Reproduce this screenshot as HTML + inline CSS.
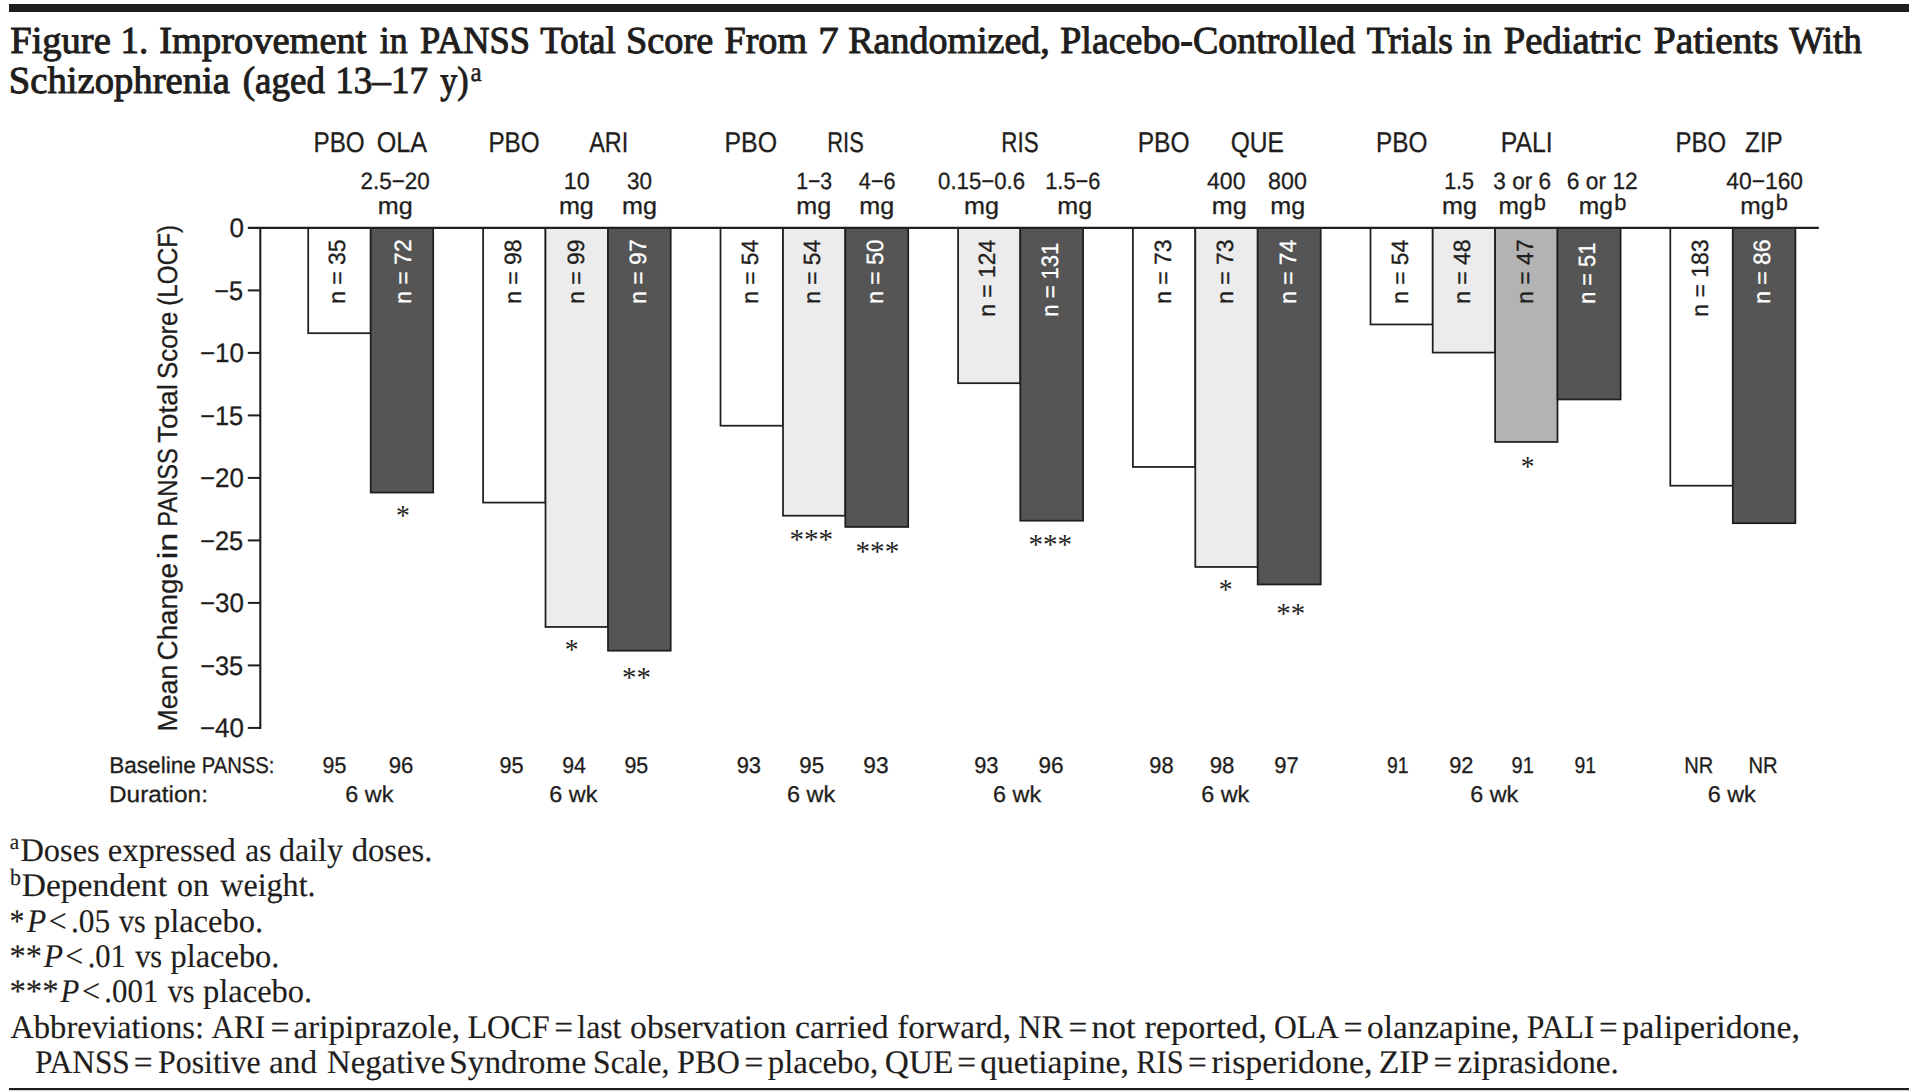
<!DOCTYPE html>
<html lang="en"><head><meta charset="utf-8"><title>Figure 1. Improvement in PANSS Total Score</title>
<style>
html,body{margin:0;padding:0;background:#fff;}
body{width:1919px;height:1092px;overflow:hidden;font-family:"Liberation Serif",serif;}
svg{display:block}
.sans{font-family:"Liberation Sans",sans-serif}
.serif,.serifi{font-family:"Liberation Serif",serif}
text{white-space:pre}
</style></head><body>
<svg width="1919" height="1092" viewBox="0 0 1919 1092" shape-rendering="auto" text-rendering="geometricPrecision">
<rect width="1919" height="1092" fill="#fff"/>
<rect x="9" y="4" width="1900" height="8" fill="#1f1e1c"/>
<rect x="9" y="1088" width="1900" height="2.2" fill="#1f1e1c"/>
<g id="title">
<text x="10.24" y="53.45" font-size="38.2" class="serif"  fill="#1f1e1c" stroke="#1f1e1c" stroke-width="1.0" textLength="100.55" lengthAdjust="spacingAndGlyphs">Figure</text>
<text x="120.46" y="53.45" font-size="38.2" class="serif"  fill="#1f1e1c" stroke="#1f1e1c" stroke-width="1.0" textLength="27.74" lengthAdjust="spacingAndGlyphs">1.</text>
<text x="159.15" y="53.45" font-size="38.2" class="serif"  fill="#1f1e1c" stroke="#1f1e1c" stroke-width="1.0" textLength="207.33" lengthAdjust="spacingAndGlyphs">Improvement</text>
<text x="379.79" y="53.45" font-size="38.2" class="serif"  fill="#1f1e1c" stroke="#1f1e1c" stroke-width="1.0" textLength="27.76" lengthAdjust="spacingAndGlyphs">in</text>
<text x="420.00" y="53.45" font-size="38.2" class="serif"  fill="#1f1e1c" stroke="#1f1e1c" stroke-width="1.0" textLength="110.03" lengthAdjust="spacingAndGlyphs">PANSS</text>
<text x="540.15" y="53.45" font-size="38.2" class="serif"  fill="#1f1e1c" stroke="#1f1e1c" stroke-width="1.0" textLength="75.52" lengthAdjust="spacingAndGlyphs">Total</text>
<text x="626.01" y="53.45" font-size="38.2" class="serif"  fill="#1f1e1c" stroke="#1f1e1c" stroke-width="1.0" textLength="87.31" lengthAdjust="spacingAndGlyphs">Score</text>
<text x="724.45" y="53.45" font-size="38.2" class="serif"  fill="#1f1e1c" stroke="#1f1e1c" stroke-width="1.0" textLength="82.60" lengthAdjust="spacingAndGlyphs">From</text>
<text x="818.25" y="53.45" font-size="38.2" class="serif"  fill="#1f1e1c" stroke="#1f1e1c" stroke-width="1.0" textLength="20.37" lengthAdjust="spacingAndGlyphs">7</text>
<text x="848.20" y="53.45" font-size="38.2" class="serif"  fill="#1f1e1c" stroke="#1f1e1c" stroke-width="1.0" textLength="201.64" lengthAdjust="spacingAndGlyphs">Randomized,</text>
<text x="1060.26" y="53.45" font-size="38.2" class="serif"  fill="#1f1e1c" stroke="#1f1e1c" stroke-width="1.0" textLength="294.96" lengthAdjust="spacingAndGlyphs">Placebo-Controlled</text>
<text x="1366.74" y="53.45" font-size="38.2" class="serif"  fill="#1f1e1c" stroke="#1f1e1c" stroke-width="1.0" textLength="86.07" lengthAdjust="spacingAndGlyphs">Trials</text>
<text x="1463.07" y="53.45" font-size="38.2" class="serif"  fill="#1f1e1c" stroke="#1f1e1c" stroke-width="1.0" textLength="28.39" lengthAdjust="spacingAndGlyphs">in</text>
<text x="1503.74" y="53.45" font-size="38.2" class="serif"  fill="#1f1e1c" stroke="#1f1e1c" stroke-width="1.0" textLength="137.40" lengthAdjust="spacingAndGlyphs">Pediatric</text>
<text x="1653.71" y="53.45" font-size="38.2" class="serif"  fill="#1f1e1c" stroke="#1f1e1c" stroke-width="1.0" textLength="125.03" lengthAdjust="spacingAndGlyphs">Patients</text>
<text x="1789.20" y="53.45" font-size="38.2" class="serif"  fill="#1f1e1c" stroke="#1f1e1c" stroke-width="1.0" textLength="72.65" lengthAdjust="spacingAndGlyphs">With</text>
<text x="8.79" y="93.00" font-size="38.2" class="serif"  fill="#1f1e1c" stroke="#1f1e1c" stroke-width="1.0" textLength="221.11" lengthAdjust="spacingAndGlyphs">Schizophrenia</text>
<text x="242.73" y="93.00" font-size="38.2" class="serif"  fill="#1f1e1c" stroke="#1f1e1c" stroke-width="1.0" textLength="82.17" lengthAdjust="spacingAndGlyphs">(aged</text>
<text x="335.25" y="93.00" font-size="38.2" class="serif"  fill="#1f1e1c" stroke="#1f1e1c" stroke-width="1.0" textLength="92.77" lengthAdjust="spacingAndGlyphs">13–17</text>
<text x="440.16" y="93.00" font-size="38.2" class="serif"  fill="#1f1e1c" stroke="#1f1e1c" stroke-width="1.0" textLength="28.30" lengthAdjust="spacingAndGlyphs">y)</text>
<text x="470.57" y="80.80" font-size="27" class="serif"  fill="#1f1e1c" stroke="#1f1e1c" stroke-width="0.5" textLength="11.17" lengthAdjust="spacingAndGlyphs">a</text>
</g>
<g id="bars">
<rect x="308.20" y="227.90" width="62.50" height="105.30" fill="#ffffff" stroke="#1f1e1c" stroke-width="1.75"/>
<rect x="370.70" y="227.90" width="62.50" height="264.67" fill="#555555" stroke="#1f1e1c" stroke-width="1.75"/>
<rect x="483.10" y="227.90" width="62.40" height="274.67" fill="#ffffff" stroke="#1f1e1c" stroke-width="1.75"/>
<rect x="545.50" y="227.90" width="62.50" height="399.05" fill="#ececec" stroke="#1f1e1c" stroke-width="1.75"/>
<rect x="608.00" y="227.90" width="62.70" height="422.80" fill="#555555" stroke="#1f1e1c" stroke-width="1.75"/>
<rect x="720.50" y="227.90" width="62.50" height="197.80" fill="#ffffff" stroke="#1f1e1c" stroke-width="1.75"/>
<rect x="783.00" y="227.90" width="62.30" height="287.80" fill="#ececec" stroke="#1f1e1c" stroke-width="1.75"/>
<rect x="845.30" y="227.90" width="62.90" height="299.05" fill="#555555" stroke="#1f1e1c" stroke-width="1.75"/>
<rect x="958.10" y="227.90" width="62.20" height="155.30" fill="#ececec" stroke="#1f1e1c" stroke-width="1.75"/>
<rect x="1020.30" y="227.90" width="62.80" height="292.80" fill="#555555" stroke="#1f1e1c" stroke-width="1.75"/>
<rect x="1132.90" y="227.90" width="62.40" height="239.05" fill="#ffffff" stroke="#1f1e1c" stroke-width="1.75"/>
<rect x="1195.30" y="227.90" width="62.40" height="339.05" fill="#ececec" stroke="#1f1e1c" stroke-width="1.75"/>
<rect x="1257.70" y="227.90" width="63.00" height="356.55" fill="#555555" stroke="#1f1e1c" stroke-width="1.75"/>
<rect x="1370.50" y="227.90" width="62.20" height="96.55" fill="#ffffff" stroke="#1f1e1c" stroke-width="1.75"/>
<rect x="1432.70" y="227.90" width="62.40" height="124.67" fill="#ececec" stroke="#1f1e1c" stroke-width="1.75"/>
<rect x="1495.10" y="227.90" width="62.40" height="214.05" fill="#b3b3b3" stroke="#1f1e1c" stroke-width="1.75"/>
<rect x="1557.50" y="227.90" width="63.10" height="171.55" fill="#555555" stroke="#1f1e1c" stroke-width="1.75"/>
<rect x="1670.30" y="227.90" width="62.50" height="257.80" fill="#ffffff" stroke="#1f1e1c" stroke-width="1.75"/>
<rect x="1732.80" y="227.90" width="62.60" height="295.30" fill="#555555" stroke="#1f1e1c" stroke-width="1.75"/>
</g>
<g id="axes">
<line x1="247.80" y1="227.90" x2="1818.80" y2="227.90" stroke="#1f1e1c" stroke-width="2.1"/>
<line x1="260.30" y1="226.90" x2="260.30" y2="728.90" stroke="#1f1e1c" stroke-width="2.1"/>
<line x1="247.80" y1="290.40" x2="260.30" y2="290.40" stroke="#1f1e1c" stroke-width="2"/>
<line x1="247.80" y1="352.90" x2="260.30" y2="352.90" stroke="#1f1e1c" stroke-width="2"/>
<line x1="247.80" y1="415.40" x2="260.30" y2="415.40" stroke="#1f1e1c" stroke-width="2"/>
<line x1="247.80" y1="477.90" x2="260.30" y2="477.90" stroke="#1f1e1c" stroke-width="2"/>
<line x1="247.80" y1="540.40" x2="260.30" y2="540.40" stroke="#1f1e1c" stroke-width="2"/>
<line x1="247.80" y1="602.90" x2="260.30" y2="602.90" stroke="#1f1e1c" stroke-width="2"/>
<line x1="247.80" y1="665.40" x2="260.30" y2="665.40" stroke="#1f1e1c" stroke-width="2"/>
<line x1="247.80" y1="727.90" x2="260.30" y2="727.90" stroke="#1f1e1c" stroke-width="2"/>
<text x="229.47" y="237.30" font-size="26.8" class="sans"  fill="#1f1e1c" stroke="#1f1e1c" stroke-width="0.3" textLength="14.49" lengthAdjust="spacingAndGlyphs">0</text>
<text x="214.33" y="299.80" font-size="26.8" class="sans"  fill="#1f1e1c" stroke="#1f1e1c" stroke-width="0.3" textLength="28.83" lengthAdjust="spacingAndGlyphs">−5</text>
<text x="199.96" y="362.30" font-size="26.8" class="sans"  fill="#1f1e1c" stroke="#1f1e1c" stroke-width="0.3" textLength="44.00" lengthAdjust="spacingAndGlyphs">−10</text>
<text x="200.13" y="424.80" font-size="26.8" class="sans"  fill="#1f1e1c" stroke="#1f1e1c" stroke-width="0.3" textLength="43.07" lengthAdjust="spacingAndGlyphs">−15</text>
<text x="199.96" y="487.30" font-size="26.8" class="sans"  fill="#1f1e1c" stroke="#1f1e1c" stroke-width="0.3" textLength="44.00" lengthAdjust="spacingAndGlyphs">−20</text>
<text x="200.13" y="549.80" font-size="26.8" class="sans"  fill="#1f1e1c" stroke="#1f1e1c" stroke-width="0.3" textLength="43.07" lengthAdjust="spacingAndGlyphs">−25</text>
<text x="199.96" y="612.30" font-size="26.8" class="sans"  fill="#1f1e1c" stroke="#1f1e1c" stroke-width="0.3" textLength="44.00" lengthAdjust="spacingAndGlyphs">−30</text>
<text x="200.13" y="674.80" font-size="26.8" class="sans"  fill="#1f1e1c" stroke="#1f1e1c" stroke-width="0.3" textLength="43.07" lengthAdjust="spacingAndGlyphs">−35</text>
<text x="199.96" y="737.30" font-size="26.8" class="sans"  fill="#1f1e1c" stroke="#1f1e1c" stroke-width="0.3" textLength="44.00" lengthAdjust="spacingAndGlyphs">−40</text>
</g>
<g id="ytitle">
<text transform="translate(176.50 731.48) rotate(-90)" font-size="27.5" class="sans"  fill="#1f1e1c" stroke="#1f1e1c" stroke-width="0.3" textLength="66.74" lengthAdjust="spacingAndGlyphs">Mean</text>
<text transform="translate(176.50 660.44) rotate(-90)" font-size="27.5" class="sans"  fill="#1f1e1c" stroke="#1f1e1c" stroke-width="0.3" textLength="97.39" lengthAdjust="spacingAndGlyphs">Change</text>
<text transform="translate(176.50 559.37) rotate(-90)" font-size="27.5" class="sans"  fill="#1f1e1c" stroke="#1f1e1c" stroke-width="0.3" textLength="26.58" lengthAdjust="spacingAndGlyphs">in</text>
<text transform="translate(176.50 526.64) rotate(-90)" font-size="27.5" class="sans"  fill="#1f1e1c" stroke="#1f1e1c" stroke-width="0.3" textLength="78.42" lengthAdjust="spacingAndGlyphs">PANSS</text>
<text transform="translate(176.50 442.91) rotate(-90)" font-size="27.5" class="sans"  fill="#1f1e1c" stroke="#1f1e1c" stroke-width="0.3" textLength="58.87" lengthAdjust="spacingAndGlyphs">Total</text>
<text transform="translate(176.50 378.91) rotate(-90)" font-size="27.5" class="sans"  fill="#1f1e1c" stroke="#1f1e1c" stroke-width="0.3" textLength="67.32" lengthAdjust="spacingAndGlyphs">Score</text>
<text transform="translate(176.50 305.70) rotate(-90)" font-size="27.5" class="sans"  fill="#1f1e1c" stroke="#1f1e1c" stroke-width="0.3" textLength="80.72" lengthAdjust="spacingAndGlyphs">(LOCF)</text>
</g>
<g id="heads">
<text x="313.51" y="152.40" font-size="28.6" class="sans"  fill="#1f1e1c" stroke="#1f1e1c" stroke-width="0.3" textLength="51.17" lengthAdjust="spacingAndGlyphs">PBO</text>
<text x="376.72" y="152.40" font-size="28.6" class="sans"  fill="#1f1e1c" stroke="#1f1e1c" stroke-width="0.3" textLength="50.36" lengthAdjust="spacingAndGlyphs">OLA</text>
<text x="488.41" y="152.40" font-size="28.6" class="sans"  fill="#1f1e1c" stroke="#1f1e1c" stroke-width="0.3" textLength="51.28" lengthAdjust="spacingAndGlyphs">PBO</text>
<text x="589.15" y="152.40" font-size="28.6" class="sans"  fill="#1f1e1c" stroke="#1f1e1c" stroke-width="0.3" textLength="38.99" lengthAdjust="spacingAndGlyphs">ARI</text>
<text x="724.46" y="152.40" font-size="28.6" class="sans"  fill="#1f1e1c" stroke="#1f1e1c" stroke-width="0.3" textLength="52.56" lengthAdjust="spacingAndGlyphs">PBO</text>
<text x="827.30" y="152.40" font-size="28.6" class="sans"  fill="#1f1e1c" stroke="#1f1e1c" stroke-width="0.3" textLength="36.53" lengthAdjust="spacingAndGlyphs">RIS</text>
<text x="1001.36" y="152.40" font-size="28.6" class="sans"  fill="#1f1e1c" stroke="#1f1e1c" stroke-width="0.3" textLength="37.29" lengthAdjust="spacingAndGlyphs">RIS</text>
<text x="1137.68" y="152.40" font-size="28.6" class="sans"  fill="#1f1e1c" stroke="#1f1e1c" stroke-width="0.3" textLength="51.92" lengthAdjust="spacingAndGlyphs">PBO</text>
<text x="1230.74" y="152.40" font-size="28.6" class="sans"  fill="#1f1e1c" stroke="#1f1e1c" stroke-width="0.3" textLength="53.24" lengthAdjust="spacingAndGlyphs">QUE</text>
<text x="1375.90" y="152.40" font-size="28.6" class="sans"  fill="#1f1e1c" stroke="#1f1e1c" stroke-width="0.3" textLength="51.49" lengthAdjust="spacingAndGlyphs">PBO</text>
<text x="1500.87" y="152.40" font-size="28.6" class="sans"  fill="#1f1e1c" stroke="#1f1e1c" stroke-width="0.3" textLength="51.84" lengthAdjust="spacingAndGlyphs">PALI</text>
<text x="1675.53" y="152.40" font-size="28.6" class="sans"  fill="#1f1e1c" stroke="#1f1e1c" stroke-width="0.3" textLength="50.64" lengthAdjust="spacingAndGlyphs">PBO</text>
<text x="1745.12" y="152.40" font-size="28.6" class="sans"  fill="#1f1e1c" stroke="#1f1e1c" stroke-width="0.3" textLength="37.61" lengthAdjust="spacingAndGlyphs">ZIP</text>
</g>
<g id="doses">
<text x="360.53" y="188.80" font-size="23.5" class="sans"  fill="#1f1e1c" stroke="#1f1e1c" stroke-width="0.3" textLength="69.20" lengthAdjust="spacingAndGlyphs">2.5−20</text>
<text x="563.71" y="188.80" font-size="23.5" class="sans"  fill="#1f1e1c" stroke="#1f1e1c" stroke-width="0.3" textLength="25.87" lengthAdjust="spacingAndGlyphs">10</text>
<text x="627.01" y="188.80" font-size="23.5" class="sans"  fill="#1f1e1c" stroke="#1f1e1c" stroke-width="0.3" textLength="25.04" lengthAdjust="spacingAndGlyphs">30</text>
<text x="796.16" y="188.80" font-size="23.5" class="sans"  fill="#1f1e1c" stroke="#1f1e1c" stroke-width="0.3" textLength="36.02" lengthAdjust="spacingAndGlyphs">1−3</text>
<text x="858.86" y="188.80" font-size="23.5" class="sans"  fill="#1f1e1c" stroke="#1f1e1c" stroke-width="0.3" textLength="36.74" lengthAdjust="spacingAndGlyphs">4−6</text>
<text x="938.12" y="188.80" font-size="23.5" class="sans"  fill="#1f1e1c" stroke="#1f1e1c" stroke-width="0.3" textLength="86.89" lengthAdjust="spacingAndGlyphs">0.15−0.6</text>
<text x="1045.21" y="188.80" font-size="23.5" class="sans"  fill="#1f1e1c" stroke="#1f1e1c" stroke-width="0.3" textLength="55.27" lengthAdjust="spacingAndGlyphs">1.5−6</text>
<text x="1207.03" y="188.80" font-size="23.5" class="sans"  fill="#1f1e1c" stroke="#1f1e1c" stroke-width="0.3" textLength="38.51" lengthAdjust="spacingAndGlyphs">400</text>
<text x="1268.06" y="188.80" font-size="23.5" class="sans"  fill="#1f1e1c" stroke="#1f1e1c" stroke-width="0.3" textLength="38.78" lengthAdjust="spacingAndGlyphs">800</text>
<text x="1444.13" y="188.80" font-size="23.5" class="sans"  fill="#1f1e1c" stroke="#1f1e1c" stroke-width="0.3" textLength="29.98" lengthAdjust="spacingAndGlyphs">1.5</text>
<text x="1493.30" y="188.80" font-size="23.5" class="sans"  fill="#1f1e1c" stroke="#1f1e1c" stroke-width="0.3" textLength="57.86" lengthAdjust="spacingAndGlyphs">3 or 6</text>
<text x="1566.81" y="188.80" font-size="23.5" class="sans"  fill="#1f1e1c" stroke="#1f1e1c" stroke-width="0.3" textLength="70.94" lengthAdjust="spacingAndGlyphs">6 or 12</text>
<text x="1726.24" y="188.80" font-size="23.5" class="sans"  fill="#1f1e1c" stroke="#1f1e1c" stroke-width="0.3" textLength="76.82" lengthAdjust="spacingAndGlyphs">40−160</text>
<text x="377.71" y="214.20" font-size="24" class="sans"  fill="#1f1e1c" stroke="#1f1e1c" stroke-width="0.3" textLength="34.95" lengthAdjust="spacingAndGlyphs">mg</text>
<text x="558.91" y="214.20" font-size="24" class="sans"  fill="#1f1e1c" stroke="#1f1e1c" stroke-width="0.3" textLength="34.95" lengthAdjust="spacingAndGlyphs">mg</text>
<text x="622.01" y="214.20" font-size="24" class="sans"  fill="#1f1e1c" stroke="#1f1e1c" stroke-width="0.3" textLength="34.95" lengthAdjust="spacingAndGlyphs">mg</text>
<text x="796.31" y="214.20" font-size="24" class="sans"  fill="#1f1e1c" stroke="#1f1e1c" stroke-width="0.3" textLength="34.95" lengthAdjust="spacingAndGlyphs">mg</text>
<text x="859.31" y="214.20" font-size="24" class="sans"  fill="#1f1e1c" stroke="#1f1e1c" stroke-width="0.3" textLength="34.95" lengthAdjust="spacingAndGlyphs">mg</text>
<text x="964.01" y="214.20" font-size="24" class="sans"  fill="#1f1e1c" stroke="#1f1e1c" stroke-width="0.3" textLength="34.95" lengthAdjust="spacingAndGlyphs">mg</text>
<text x="1057.21" y="214.20" font-size="24" class="sans"  fill="#1f1e1c" stroke="#1f1e1c" stroke-width="0.3" textLength="34.95" lengthAdjust="spacingAndGlyphs">mg</text>
<text x="1211.71" y="214.20" font-size="24" class="sans"  fill="#1f1e1c" stroke="#1f1e1c" stroke-width="0.3" textLength="34.95" lengthAdjust="spacingAndGlyphs">mg</text>
<text x="1270.21" y="214.20" font-size="24" class="sans"  fill="#1f1e1c" stroke="#1f1e1c" stroke-width="0.3" textLength="34.95" lengthAdjust="spacingAndGlyphs">mg</text>
<text x="1442.01" y="214.20" font-size="24" class="sans"  fill="#1f1e1c" stroke="#1f1e1c" stroke-width="0.3" textLength="34.95" lengthAdjust="spacingAndGlyphs">mg</text>
<text x="1498.45" y="214.20" font-size="24" class="sans"  fill="#1f1e1c" stroke="#1f1e1c" stroke-width="0.3" textLength="34.18" lengthAdjust="spacingAndGlyphs">mg</text>
<text x="1533.78" y="209.60" font-size="22.5" class="sans"  fill="#1f1e1c" stroke="#1f1e1c" stroke-width="0.3" textLength="12.17" lengthAdjust="spacingAndGlyphs">b</text>
<text x="1578.85" y="214.20" font-size="24" class="sans"  fill="#1f1e1c" stroke="#1f1e1c" stroke-width="0.3" textLength="34.18" lengthAdjust="spacingAndGlyphs">mg</text>
<text x="1614.18" y="209.60" font-size="22.5" class="sans"  fill="#1f1e1c" stroke="#1f1e1c" stroke-width="0.3" textLength="12.17" lengthAdjust="spacingAndGlyphs">b</text>
<text x="1740.35" y="214.20" font-size="24" class="sans"  fill="#1f1e1c" stroke="#1f1e1c" stroke-width="0.3" textLength="34.18" lengthAdjust="spacingAndGlyphs">mg</text>
<text x="1775.68" y="209.60" font-size="22.5" class="sans"  fill="#1f1e1c" stroke="#1f1e1c" stroke-width="0.3" textLength="12.17" lengthAdjust="spacingAndGlyphs">b</text>
</g>
<g id="ns">
<text transform="translate(345.00 303.84) rotate(-90)" font-size="23.6" class="sans"  fill="#1f1e1c" stroke="#1f1e1c" stroke-width="0.3" textLength="64.32" lengthAdjust="spacingAndGlyphs">n = 35</text>
<text transform="translate(410.80 303.84) rotate(-90)" font-size="23.6" class="sans"  fill="#ffffff" stroke="#ffffff" stroke-width="0.3" textLength="64.50" lengthAdjust="spacingAndGlyphs">n = 72</text>
<text transform="translate(521.00 303.84) rotate(-90)" font-size="23.6" class="sans"  fill="#1f1e1c" stroke="#1f1e1c" stroke-width="0.3" textLength="64.32" lengthAdjust="spacingAndGlyphs">n = 98</text>
<text transform="translate(584.20 303.84) rotate(-90)" font-size="23.6" class="sans"  fill="#1f1e1c" stroke="#1f1e1c" stroke-width="0.3" textLength="64.44" lengthAdjust="spacingAndGlyphs">n = 99</text>
<text transform="translate(645.90 303.84) rotate(-90)" font-size="23.6" class="sans"  fill="#ffffff" stroke="#ffffff" stroke-width="0.3" textLength="64.50" lengthAdjust="spacingAndGlyphs">n = 97</text>
<text transform="translate(757.70 303.83) rotate(-90)" font-size="23.6" class="sans"  fill="#1f1e1c" stroke="#1f1e1c" stroke-width="0.3" textLength="64.02" lengthAdjust="spacingAndGlyphs">n = 54</text>
<text transform="translate(820.30 303.83) rotate(-90)" font-size="23.6" class="sans"  fill="#1f1e1c" stroke="#1f1e1c" stroke-width="0.3" textLength="64.02" lengthAdjust="spacingAndGlyphs">n = 54</text>
<text transform="translate(882.80 303.84) rotate(-90)" font-size="23.6" class="sans"  fill="#ffffff" stroke="#ffffff" stroke-width="0.3" textLength="64.26" lengthAdjust="spacingAndGlyphs">n = 50</text>
<text transform="translate(995.30 316.74) rotate(-90)" font-size="23.6" class="sans"  fill="#1f1e1c" stroke="#1f1e1c" stroke-width="0.3" textLength="76.96" lengthAdjust="spacingAndGlyphs">n = 124</text>
<text transform="translate(1058.40 316.68) rotate(-90)" font-size="23.6" class="sans"  fill="#ffffff" stroke="#ffffff" stroke-width="0.3" textLength="74.02" lengthAdjust="spacingAndGlyphs">n = 131</text>
<text transform="translate(1170.50 303.84) rotate(-90)" font-size="23.6" class="sans"  fill="#1f1e1c" stroke="#1f1e1c" stroke-width="0.3" textLength="64.38" lengthAdjust="spacingAndGlyphs">n = 73</text>
<text transform="translate(1233.20 303.84) rotate(-90)" font-size="23.6" class="sans"  fill="#1f1e1c" stroke="#1f1e1c" stroke-width="0.3" textLength="64.38" lengthAdjust="spacingAndGlyphs">n = 73</text>
<text transform="translate(1295.60 303.83) rotate(-90)" font-size="23.6" class="sans"  fill="#ffffff" stroke="#ffffff" stroke-width="0.3" textLength="64.02" lengthAdjust="spacingAndGlyphs">n = 74</text>
<text transform="translate(1407.70 303.83) rotate(-90)" font-size="23.6" class="sans"  fill="#1f1e1c" stroke="#1f1e1c" stroke-width="0.3" textLength="64.02" lengthAdjust="spacingAndGlyphs">n = 54</text>
<text transform="translate(1470.00 303.84) rotate(-90)" font-size="23.6" class="sans"  fill="#1f1e1c" stroke="#1f1e1c" stroke-width="0.3" textLength="64.32" lengthAdjust="spacingAndGlyphs">n = 48</text>
<text transform="translate(1532.70 303.84) rotate(-90)" font-size="23.6" class="sans"  fill="#1f1e1c" stroke="#1f1e1c" stroke-width="0.3" textLength="64.50" lengthAdjust="spacingAndGlyphs">n = 47</text>
<text transform="translate(1595.00 303.76) rotate(-90)" font-size="23.6" class="sans"  fill="#ffffff" stroke="#ffffff" stroke-width="0.3" textLength="61.06" lengthAdjust="spacingAndGlyphs">n = 51</text>
<text transform="translate(1708.00 316.74) rotate(-90)" font-size="23.6" class="sans"  fill="#1f1e1c" stroke="#1f1e1c" stroke-width="0.3" textLength="77.31" lengthAdjust="spacingAndGlyphs">n = 183</text>
<text transform="translate(1770.30 303.84) rotate(-90)" font-size="23.6" class="sans"  fill="#ffffff" stroke="#ffffff" stroke-width="0.3" textLength="64.38" lengthAdjust="spacingAndGlyphs">n = 86</text>
</g>
<g id="stars">
<text x="395.89" y="525.17" font-size="29" class="serif"  fill="#1f1e1c" stroke="#1f1e1c" stroke-width="0.01" textLength="13.81" lengthAdjust="spacingAndGlyphs">*</text>
<text x="564.69" y="659.07" font-size="29" class="serif"  fill="#1f1e1c" stroke="#1f1e1c" stroke-width="0.01" textLength="13.81" lengthAdjust="spacingAndGlyphs">*</text>
<text x="622.09" y="686.57" font-size="29" class="serif"  fill="#1f1e1c" stroke="#1f1e1c" stroke-width="0.01" textLength="28.83" lengthAdjust="spacingAndGlyphs">**</text>
<text x="789.42" y="548.77" font-size="29" class="serif"  fill="#1f1e1c" stroke="#1f1e1c" stroke-width="0.01" textLength="43.76" lengthAdjust="spacingAndGlyphs">***</text>
<text x="855.52" y="561.37" font-size="29" class="serif"  fill="#1f1e1c" stroke="#1f1e1c" stroke-width="0.01" textLength="43.76" lengthAdjust="spacingAndGlyphs">***</text>
<text x="1028.42" y="553.87" font-size="29" class="serif"  fill="#1f1e1c" stroke="#1f1e1c" stroke-width="0.01" textLength="43.76" lengthAdjust="spacingAndGlyphs">***</text>
<text x="1218.69" y="599.17" font-size="29" class="serif"  fill="#1f1e1c" stroke="#1f1e1c" stroke-width="0.01" textLength="13.81" lengthAdjust="spacingAndGlyphs">*</text>
<text x="1276.29" y="623.27" font-size="29" class="serif"  fill="#1f1e1c" stroke="#1f1e1c" stroke-width="0.01" textLength="28.83" lengthAdjust="spacingAndGlyphs">**</text>
<text x="1520.69" y="476.27" font-size="29" class="serif"  fill="#1f1e1c" stroke="#1f1e1c" stroke-width="0.01" textLength="13.81" lengthAdjust="spacingAndGlyphs">*</text>
</g>
<g id="table">
<text x="109.14" y="772.70" font-size="22.8" class="sans"  fill="#1f1e1c" stroke="#1f1e1c" stroke-width="0.3" textLength="86.69" lengthAdjust="spacingAndGlyphs">Baseline</text>
<text x="201.63" y="772.70" font-size="22.8" class="sans"  fill="#1f1e1c" stroke="#1f1e1c" stroke-width="0.3" textLength="72.87" lengthAdjust="spacingAndGlyphs">PANSS:</text>
<text x="109.00" y="801.90" font-size="22.8" class="sans"  fill="#1f1e1c" stroke="#1f1e1c" stroke-width="0.3" textLength="98.95" lengthAdjust="spacingAndGlyphs">Duration:</text>
<text x="322.59" y="772.70" font-size="22.8" class="sans"  fill="#1f1e1c" stroke="#1f1e1c" stroke-width="0.3" textLength="23.77" lengthAdjust="spacingAndGlyphs">95</text>
<text x="388.65" y="772.70" font-size="22.8" class="sans"  fill="#1f1e1c" stroke="#1f1e1c" stroke-width="0.3" textLength="24.69" lengthAdjust="spacingAndGlyphs">96</text>
<text x="499.58" y="772.70" font-size="22.8" class="sans"  fill="#1f1e1c" stroke="#1f1e1c" stroke-width="0.3" textLength="24.09" lengthAdjust="spacingAndGlyphs">95</text>
<text x="562.19" y="772.70" font-size="22.8" class="sans"  fill="#1f1e1c" stroke="#1f1e1c" stroke-width="0.3" textLength="23.69" lengthAdjust="spacingAndGlyphs">94</text>
<text x="624.39" y="772.70" font-size="22.8" class="sans"  fill="#1f1e1c" stroke="#1f1e1c" stroke-width="0.3" textLength="23.77" lengthAdjust="spacingAndGlyphs">95</text>
<text x="736.66" y="772.70" font-size="22.8" class="sans"  fill="#1f1e1c" stroke="#1f1e1c" stroke-width="0.3" textLength="24.37" lengthAdjust="spacingAndGlyphs">93</text>
<text x="799.35" y="772.70" font-size="22.8" class="sans"  fill="#1f1e1c" stroke="#1f1e1c" stroke-width="0.3" textLength="24.74" lengthAdjust="spacingAndGlyphs">95</text>
<text x="863.33" y="772.70" font-size="22.8" class="sans"  fill="#1f1e1c" stroke="#1f1e1c" stroke-width="0.3" textLength="25.24" lengthAdjust="spacingAndGlyphs">93</text>
<text x="974.16" y="772.70" font-size="22.8" class="sans"  fill="#1f1e1c" stroke="#1f1e1c" stroke-width="0.3" textLength="24.37" lengthAdjust="spacingAndGlyphs">93</text>
<text x="1038.53" y="772.70" font-size="22.8" class="sans"  fill="#1f1e1c" stroke="#1f1e1c" stroke-width="0.3" textLength="25.13" lengthAdjust="spacingAndGlyphs">96</text>
<text x="1149.27" y="772.70" font-size="22.8" class="sans"  fill="#1f1e1c" stroke="#1f1e1c" stroke-width="0.3" textLength="24.31" lengthAdjust="spacingAndGlyphs">98</text>
<text x="1209.65" y="772.70" font-size="22.8" class="sans"  fill="#1f1e1c" stroke="#1f1e1c" stroke-width="0.3" textLength="24.74" lengthAdjust="spacingAndGlyphs">98</text>
<text x="1274.36" y="772.70" font-size="22.8" class="sans"  fill="#1f1e1c" stroke="#1f1e1c" stroke-width="0.3" textLength="24.49" lengthAdjust="spacingAndGlyphs">97</text>
<text x="1386.97" y="772.70" font-size="22.8" class="sans"  fill="#1f1e1c" stroke="#1f1e1c" stroke-width="0.3" textLength="21.65" lengthAdjust="spacingAndGlyphs">91</text>
<text x="1449.17" y="772.70" font-size="22.8" class="sans"  fill="#1f1e1c" stroke="#1f1e1c" stroke-width="0.3" textLength="24.27" lengthAdjust="spacingAndGlyphs">92</text>
<text x="1511.55" y="772.70" font-size="22.8" class="sans"  fill="#1f1e1c" stroke="#1f1e1c" stroke-width="0.3" textLength="22.30" lengthAdjust="spacingAndGlyphs">91</text>
<text x="1574.47" y="772.70" font-size="22.8" class="sans"  fill="#1f1e1c" stroke="#1f1e1c" stroke-width="0.3" textLength="21.65" lengthAdjust="spacingAndGlyphs">91</text>
<text x="1684.34" y="772.70" font-size="22.8" class="sans"  fill="#1f1e1c" stroke="#1f1e1c" stroke-width="0.3" textLength="29.00" lengthAdjust="spacingAndGlyphs">NR</text>
<text x="1748.54" y="772.70" font-size="22.8" class="sans"  fill="#1f1e1c" stroke="#1f1e1c" stroke-width="0.3" textLength="29.11" lengthAdjust="spacingAndGlyphs">NR</text>
<text x="345.38" y="801.90" font-size="22.8" class="sans"  fill="#1f1e1c" stroke="#1f1e1c" stroke-width="0.3" textLength="48.04" lengthAdjust="spacingAndGlyphs">6 wk</text>
<text x="549.38" y="801.90" font-size="22.8" class="sans"  fill="#1f1e1c" stroke="#1f1e1c" stroke-width="0.3" textLength="48.04" lengthAdjust="spacingAndGlyphs">6 wk</text>
<text x="787.08" y="801.90" font-size="22.8" class="sans"  fill="#1f1e1c" stroke="#1f1e1c" stroke-width="0.3" textLength="48.04" lengthAdjust="spacingAndGlyphs">6 wk</text>
<text x="993.08" y="801.90" font-size="22.8" class="sans"  fill="#1f1e1c" stroke="#1f1e1c" stroke-width="0.3" textLength="48.04" lengthAdjust="spacingAndGlyphs">6 wk</text>
<text x="1201.18" y="801.90" font-size="22.8" class="sans"  fill="#1f1e1c" stroke="#1f1e1c" stroke-width="0.3" textLength="48.04" lengthAdjust="spacingAndGlyphs">6 wk</text>
<text x="1470.28" y="801.90" font-size="22.8" class="sans"  fill="#1f1e1c" stroke="#1f1e1c" stroke-width="0.3" textLength="48.04" lengthAdjust="spacingAndGlyphs">6 wk</text>
<text x="1707.68" y="801.90" font-size="22.8" class="sans"  fill="#1f1e1c" stroke="#1f1e1c" stroke-width="0.3" textLength="48.04" lengthAdjust="spacingAndGlyphs">6 wk</text>
</g>
<g id="notes">
<text x="9.63" y="849.40" font-size="22" class="serif"  fill="#1f1e1c" stroke="#1f1e1c" stroke-width="0.15" textLength="9.44" lengthAdjust="spacingAndGlyphs">a</text>
<text x="20.48" y="860.60" font-size="33" class="serif"  fill="#1f1e1c" stroke="#1f1e1c" stroke-width="0.15" textLength="79.15" lengthAdjust="spacingAndGlyphs">Doses</text>
<text x="107.76" y="860.60" font-size="33" class="serif"  fill="#1f1e1c" stroke="#1f1e1c" stroke-width="0.15" textLength="128.11" lengthAdjust="spacingAndGlyphs">expressed</text>
<text x="245.37" y="860.60" font-size="33" class="serif"  fill="#1f1e1c" stroke="#1f1e1c" stroke-width="0.15" textLength="26.19" lengthAdjust="spacingAndGlyphs">as</text>
<text x="279.06" y="860.60" font-size="33" class="serif"  fill="#1f1e1c" stroke="#1f1e1c" stroke-width="0.15" textLength="63.94" lengthAdjust="spacingAndGlyphs">daily</text>
<text x="351.63" y="860.60" font-size="33" class="serif"  fill="#1f1e1c" stroke="#1f1e1c" stroke-width="0.15" textLength="80.71" lengthAdjust="spacingAndGlyphs">doses.</text>
<text x="9.88" y="884.80" font-size="23.5" class="serif"  fill="#1f1e1c" stroke="#1f1e1c" stroke-width="0.15" textLength="10.97" lengthAdjust="spacingAndGlyphs">b</text>
<text x="21.75" y="896.10" font-size="33" class="serif"  fill="#1f1e1c" stroke="#1f1e1c" stroke-width="0.15" textLength="145.21" lengthAdjust="spacingAndGlyphs">Dependent</text>
<text x="177.08" y="896.10" font-size="33" class="serif"  fill="#1f1e1c" stroke="#1f1e1c" stroke-width="0.15" textLength="31.93" lengthAdjust="spacingAndGlyphs">on</text>
<text x="220.27" y="896.10" font-size="33" class="serif"  fill="#1f1e1c" stroke="#1f1e1c" stroke-width="0.15" textLength="95.31" lengthAdjust="spacingAndGlyphs">weight.</text>
<text x="9.55" y="931.60" font-size="33" class="serif"  fill="#1f1e1c" stroke="#1f1e1c" stroke-width="0.15" textLength="15.00" lengthAdjust="spacingAndGlyphs">*</text>
<text x="27.11" y="931.60" font-size="33" class="serifi" font-style="italic" fill="#1f1e1c" stroke="#1f1e1c" stroke-width="0.15" textLength="19.25" lengthAdjust="spacingAndGlyphs">P</text>
<text x="48.66" y="931.60" font-size="33" class="serif"  fill="#1f1e1c" stroke="#1f1e1c" stroke-width="0.15" textLength="17.94" lengthAdjust="spacingAndGlyphs">&lt;</text>
<text x="70.93" y="931.60" font-size="33" class="serif"  fill="#1f1e1c" stroke="#1f1e1c" stroke-width="0.15" textLength="39.27" lengthAdjust="spacingAndGlyphs">.05</text>
<text x="118.88" y="931.60" font-size="33" class="serif"  fill="#1f1e1c" stroke="#1f1e1c" stroke-width="0.15" textLength="26.68" lengthAdjust="spacingAndGlyphs">vs</text>
<text x="153.89" y="931.60" font-size="33" class="serif"  fill="#1f1e1c" stroke="#1f1e1c" stroke-width="0.15" textLength="109.23" lengthAdjust="spacingAndGlyphs">placebo.</text>
<text x="9.43" y="967.00" font-size="33" class="serif"  fill="#1f1e1c" stroke="#1f1e1c" stroke-width="0.15" textLength="32.43" lengthAdjust="spacingAndGlyphs">**</text>
<text x="43.71" y="967.00" font-size="33" class="serifi" font-style="italic" fill="#1f1e1c" stroke="#1f1e1c" stroke-width="0.15" textLength="19.35" lengthAdjust="spacingAndGlyphs">P</text>
<text x="65.36" y="967.00" font-size="33" class="serif"  fill="#1f1e1c" stroke="#1f1e1c" stroke-width="0.15" textLength="17.94" lengthAdjust="spacingAndGlyphs">&lt;</text>
<text x="87.69" y="967.00" font-size="33" class="serif"  fill="#1f1e1c" stroke="#1f1e1c" stroke-width="0.15" textLength="38.17" lengthAdjust="spacingAndGlyphs">.01</text>
<text x="135.17" y="967.00" font-size="33" class="serif"  fill="#1f1e1c" stroke="#1f1e1c" stroke-width="0.15" textLength="26.99" lengthAdjust="spacingAndGlyphs">vs</text>
<text x="170.49" y="967.00" font-size="33" class="serif"  fill="#1f1e1c" stroke="#1f1e1c" stroke-width="0.15" textLength="108.93" lengthAdjust="spacingAndGlyphs">placebo.</text>
<text x="9.42" y="1002.40" font-size="33" class="serif"  fill="#1f1e1c" stroke="#1f1e1c" stroke-width="0.15" textLength="49.16" lengthAdjust="spacingAndGlyphs">***</text>
<text x="60.41" y="1002.40" font-size="33" class="serifi" font-style="italic" fill="#1f1e1c" stroke="#1f1e1c" stroke-width="0.15" textLength="18.84" lengthAdjust="spacingAndGlyphs">P</text>
<text x="81.95" y="1002.40" font-size="33" class="serif"  fill="#1f1e1c" stroke="#1f1e1c" stroke-width="0.15" textLength="18.06" lengthAdjust="spacingAndGlyphs">&lt;</text>
<text x="104.37" y="1002.40" font-size="33" class="serif"  fill="#1f1e1c" stroke="#1f1e1c" stroke-width="0.15" textLength="54.01" lengthAdjust="spacingAndGlyphs">.001</text>
<text x="167.67" y="1002.40" font-size="33" class="serif"  fill="#1f1e1c" stroke="#1f1e1c" stroke-width="0.15" textLength="26.99" lengthAdjust="spacingAndGlyphs">vs</text>
<text x="202.99" y="1002.40" font-size="33" class="serif"  fill="#1f1e1c" stroke="#1f1e1c" stroke-width="0.15" textLength="109.23" lengthAdjust="spacingAndGlyphs">placebo.</text>
<text x="10.23" y="1037.80" font-size="33" class="serif"  fill="#1f1e1c" stroke="#1f1e1c" stroke-width="0.15" textLength="193.84" lengthAdjust="spacingAndGlyphs">Abbreviations:</text>
<text x="211.44" y="1037.80" font-size="33" class="serif"  fill="#1f1e1c" stroke="#1f1e1c" stroke-width="0.15" textLength="53.79" lengthAdjust="spacingAndGlyphs">ARI</text>
<text x="270.47" y="1037.80" font-size="33" class="serif"  fill="#1f1e1c" stroke="#1f1e1c" stroke-width="0.15" textLength="19.02" lengthAdjust="spacingAndGlyphs">=</text>
<text x="293.62" y="1037.80" font-size="33" class="serif"  fill="#1f1e1c" stroke="#1f1e1c" stroke-width="0.15" textLength="166.38" lengthAdjust="spacingAndGlyphs">aripiprazole,</text>
<text x="467.39" y="1037.80" font-size="33" class="serif"  fill="#1f1e1c" stroke="#1f1e1c" stroke-width="0.15" textLength="82.32" lengthAdjust="spacingAndGlyphs">LOCF</text>
<text x="554.19" y="1037.80" font-size="33" class="serif"  fill="#1f1e1c" stroke="#1f1e1c" stroke-width="0.15" textLength="18.78" lengthAdjust="spacingAndGlyphs">=</text>
<text x="577.34" y="1037.80" font-size="33" class="serif"  fill="#1f1e1c" stroke="#1f1e1c" stroke-width="0.15" textLength="43.98" lengthAdjust="spacingAndGlyphs">last</text>
<text x="630.12" y="1037.80" font-size="33" class="serif"  fill="#1f1e1c" stroke="#1f1e1c" stroke-width="0.15" textLength="156.53" lengthAdjust="spacingAndGlyphs">observation</text>
<text x="795.11" y="1037.80" font-size="33" class="serif"  fill="#1f1e1c" stroke="#1f1e1c" stroke-width="0.15" textLength="93.47" lengthAdjust="spacingAndGlyphs">carried</text>
<text x="897.28" y="1037.80" font-size="33" class="serif"  fill="#1f1e1c" stroke="#1f1e1c" stroke-width="0.15" textLength="113.84" lengthAdjust="spacingAndGlyphs">forward,</text>
<text x="1018.29" y="1037.80" font-size="33" class="serif"  fill="#1f1e1c" stroke="#1f1e1c" stroke-width="0.15" textLength="44.61" lengthAdjust="spacingAndGlyphs">NR</text>
<text x="1068.59" y="1037.80" font-size="33" class="serif"  fill="#1f1e1c" stroke="#1f1e1c" stroke-width="0.15" textLength="18.78" lengthAdjust="spacingAndGlyphs">=</text>
<text x="1091.50" y="1037.80" font-size="33" class="serif"  fill="#1f1e1c" stroke="#1f1e1c" stroke-width="0.15" textLength="44.11" lengthAdjust="spacingAndGlyphs">not</text>
<text x="1144.49" y="1037.80" font-size="33" class="serif"  fill="#1f1e1c" stroke="#1f1e1c" stroke-width="0.15" textLength="122.44" lengthAdjust="spacingAndGlyphs">reported,</text>
<text x="1273.91" y="1037.80" font-size="33" class="serif"  fill="#1f1e1c" stroke="#1f1e1c" stroke-width="0.15" textLength="64.96" lengthAdjust="spacingAndGlyphs">OLA</text>
<text x="1343.56" y="1037.80" font-size="33" class="serif"  fill="#1f1e1c" stroke="#1f1e1c" stroke-width="0.15" textLength="19.14" lengthAdjust="spacingAndGlyphs">=</text>
<text x="1367.03" y="1037.80" font-size="33" class="serif"  fill="#1f1e1c" stroke="#1f1e1c" stroke-width="0.15" textLength="152.42" lengthAdjust="spacingAndGlyphs">olanzapine,</text>
<text x="1526.80" y="1037.80" font-size="33" class="serif"  fill="#1f1e1c" stroke="#1f1e1c" stroke-width="0.15" textLength="67.57" lengthAdjust="spacingAndGlyphs">PALI</text>
<text x="1599.00" y="1037.80" font-size="33" class="serif"  fill="#1f1e1c" stroke="#1f1e1c" stroke-width="0.15" textLength="18.66" lengthAdjust="spacingAndGlyphs">=</text>
<text x="1622.37" y="1037.80" font-size="33" class="serif"  fill="#1f1e1c" stroke="#1f1e1c" stroke-width="0.15" textLength="177.49" lengthAdjust="spacingAndGlyphs">paliperidone,</text>
<text x="34.91" y="1073.20" font-size="33" class="serif"  fill="#1f1e1c" stroke="#1f1e1c" stroke-width="0.15" textLength="94.93" lengthAdjust="spacingAndGlyphs">PANSS</text>
<text x="133.78" y="1073.20" font-size="33" class="serif"  fill="#1f1e1c" stroke="#1f1e1c" stroke-width="0.15" textLength="18.90" lengthAdjust="spacingAndGlyphs">=</text>
<text x="158.00" y="1073.20" font-size="33" class="serif"  fill="#1f1e1c" stroke="#1f1e1c" stroke-width="0.15" textLength="102.67" lengthAdjust="spacingAndGlyphs">Positive</text>
<text x="269.01" y="1073.20" font-size="33" class="serif"  fill="#1f1e1c" stroke="#1f1e1c" stroke-width="0.15" textLength="48.01" lengthAdjust="spacingAndGlyphs">and</text>
<text x="326.97" y="1073.20" font-size="33" class="serif"  fill="#1f1e1c" stroke="#1f1e1c" stroke-width="0.15" textLength="118.38" lengthAdjust="spacingAndGlyphs">Negative</text>
<text x="449.21" y="1073.20" font-size="33" class="serif"  fill="#1f1e1c" stroke="#1f1e1c" stroke-width="0.15" textLength="137.03" lengthAdjust="spacingAndGlyphs">Syndrome</text>
<text x="593.12" y="1073.20" font-size="33" class="serif"  fill="#1f1e1c" stroke="#1f1e1c" stroke-width="0.15" textLength="76.19" lengthAdjust="spacingAndGlyphs">Scale,</text>
<text x="676.99" y="1073.20" font-size="33" class="serif"  fill="#1f1e1c" stroke="#1f1e1c" stroke-width="0.15" textLength="62.95" lengthAdjust="spacingAndGlyphs">PBO</text>
<text x="744.16" y="1073.20" font-size="33" class="serif"  fill="#1f1e1c" stroke="#1f1e1c" stroke-width="0.15" textLength="19.14" lengthAdjust="spacingAndGlyphs">=</text>
<text x="767.78" y="1073.20" font-size="33" class="serif"  fill="#1f1e1c" stroke="#1f1e1c" stroke-width="0.15" textLength="110.38" lengthAdjust="spacingAndGlyphs">placebo,</text>
<text x="884.84" y="1073.20" font-size="33" class="serif"  fill="#1f1e1c" stroke="#1f1e1c" stroke-width="0.15" textLength="68.47" lengthAdjust="spacingAndGlyphs">QUE</text>
<text x="957.28" y="1073.20" font-size="33" class="serif"  fill="#1f1e1c" stroke="#1f1e1c" stroke-width="0.15" textLength="18.90" lengthAdjust="spacingAndGlyphs">=</text>
<text x="980.20" y="1073.20" font-size="33" class="serif"  fill="#1f1e1c" stroke="#1f1e1c" stroke-width="0.15" textLength="148.64" lengthAdjust="spacingAndGlyphs">quetiapine,</text>
<text x="1136.24" y="1073.20" font-size="33" class="serif"  fill="#1f1e1c" stroke="#1f1e1c" stroke-width="0.15" textLength="47.35" lengthAdjust="spacingAndGlyphs">RIS</text>
<text x="1187.99" y="1073.20" font-size="33" class="serif"  fill="#1f1e1c" stroke="#1f1e1c" stroke-width="0.15" textLength="18.78" lengthAdjust="spacingAndGlyphs">=</text>
<text x="1211.40" y="1073.20" font-size="33" class="serif"  fill="#1f1e1c" stroke="#1f1e1c" stroke-width="0.15" textLength="161.19" lengthAdjust="spacingAndGlyphs">risperidone,</text>
<text x="1378.78" y="1073.20" font-size="33" class="serif"  fill="#1f1e1c" stroke="#1f1e1c" stroke-width="0.15" textLength="50.41" lengthAdjust="spacingAndGlyphs">ZIP</text>
<text x="1433.59" y="1073.20" font-size="33" class="serif"  fill="#1f1e1c" stroke="#1f1e1c" stroke-width="0.15" textLength="18.78" lengthAdjust="spacingAndGlyphs">=</text>
<text x="1457.44" y="1073.20" font-size="33" class="serif"  fill="#1f1e1c" stroke="#1f1e1c" stroke-width="0.15" textLength="161.42" lengthAdjust="spacingAndGlyphs">ziprasidone.</text>
</g>
</svg>
</body></html>
